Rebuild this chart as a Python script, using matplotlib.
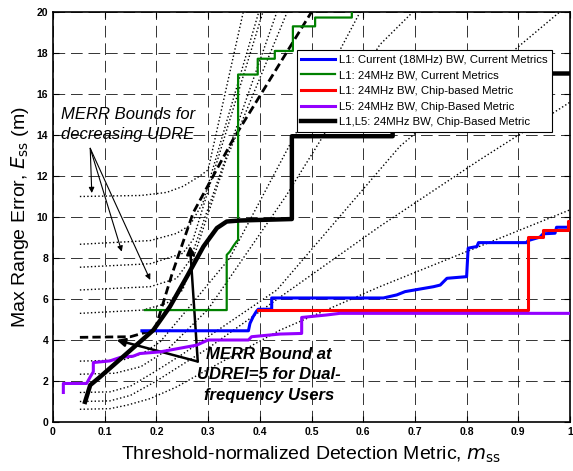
import matplotlib
matplotlib.use('Agg')
import matplotlib.pyplot as plt

plt.rcParams['font.family'] = ['Liberation Sans', 'DejaVu Sans']

# MERR bound curves (dotted), one per UDRE level: (x points, y points)
merr_bounds = {
    '11.0': ([0.052, 0.17, 0.22, 0.252, 0.284, 0.30, 0.368],
             [11.0, 11.05, 11.2, 11.5, 12.0, 12.3, 20.0]),
    '8.65': ([0.052, 0.188, 0.239, 0.265, 0.29, 0.398],
             [8.67, 8.85, 9.2, 9.6, 10.7, 20.0]),
    '7.55': ([0.052, 0.188, 0.251, 0.271, 0.406],
             [7.55, 7.72, 8.23, 8.9, 20.0]),
    '6.45': ([0.052, 0.188, 0.239, 0.265, 0.433],
             [6.44, 6.6, 7.0, 7.9, 20.0]),
    '5.3': ([0.052, 0.174, 0.22, 0.251, 0.335, 0.453],
            [5.3, 5.46, 5.79, 6.44, 12.8, 20.0]),
    '3.0': ([0.052, 0.135, 0.174, 0.207, 0.26, 0.342, 0.594],
            [2.97, 3.02, 3.36, 3.9, 5.5, 8.0, 20.0]),
    '2.35': ([0.052, 0.12, 0.17, 0.22, 0.30, 0.45, 0.632, 0.696],
             [2.33, 2.38, 2.7, 3.5, 5.5, 11.0, 18.4, 20.0]),
    '1.45': ([0.052, 0.11, 0.15, 0.20, 0.25, 0.433, 0.671, 0.98],
             [1.44, 1.47, 1.75, 2.5, 3.3, 6.44, 13.45, 20.0]),
    '1.0': ([0.052, 0.11, 0.15, 0.20, 0.30, 0.632, 0.826, 1.0],
            [1.0, 1.03, 1.3, 2.0, 3.6, 9.54, 12.8, 15.6]),
    '0.6': ([0.052, 0.11, 0.143, 0.188, 0.239, 0.297, 0.439, 0.632, 1.0],
            [0.62, 0.65, 0.82, 1.14, 1.71, 2.53, 4.48, 6.6, 10.35]),
}

# MERR bound at UDREI=5 (dashed)
udrei5_x = [0.052, 0.15, 0.194, 0.20, 0.23, 0.271, 0.348, 0.50]
udrei5_y = [4.13, 4.16, 4.48, 4.73, 7.2, 10.2, 13.77, 20.0]

# L1: current 18MHz BW, current metrics
blue_x = [0.172, 0.378, 0.381, 0.387, 0.393, 0.397, 0.423, 0.423, 0.639, 0.665, 0.681,
          0.736, 0.749, 0.762, 0.800, 0.803, 0.820, 0.823, 0.916, 0.919, 0.942,
          0.948, 0.971, 0.974, 1.0]
blue_y = [4.45, 4.45, 4.81, 5.13, 5.38, 5.5, 5.5, 6.05, 6.05, 6.2, 6.36,
          6.6, 6.68, 7.01, 7.09, 8.48, 8.56, 8.75, 8.75, 8.85, 9.02,
          9.18, 9.21, 9.5, 9.5]

# L1: 24MHz BW, current metrics
green_x = [0.178, 0.336, 0.336, 0.342, 0.349, 0.355, 0.358, 0.358, 0.396, 0.396,
           0.429, 0.429, 0.464, 0.464, 0.507, 0.507, 0.578, 0.578]
green_y = [5.46, 5.46, 8.15, 8.31, 8.59, 8.8, 8.88, 16.95, 16.95, 17.72,
           17.72, 18.1, 18.1, 19.3, 19.3, 19.73, 19.73, 20.05]

# L1: 24MHz BW, chip-based metric
red_x = [0.397, 0.919, 0.919, 0.947, 0.947, 0.997, 0.997, 1.0]
red_y = [5.46, 5.46, 9.02, 9.02, 9.37, 9.37, 9.8, 9.8]

# L5: 24MHz BW, chip-based metric
purple_x = [0.02, 0.02, 0.065, 0.072, 0.078, 0.078, 0.110, 0.130, 0.155, 0.168,
            0.207, 0.278, 0.30, 0.378, 0.384, 0.439, 0.481, 0.481, 0.529, 0.555, 1.0]
purple_y = [1.44, 1.88, 1.88, 2.2, 2.45, 2.9, 2.98, 3.15, 3.21, 3.34,
            3.42, 3.75, 4.0, 4.0, 4.16, 4.29, 4.32, 5.1, 5.22, 5.3, 5.3]

# L1,L5: 24MHz BW, chip-based metric
black_x = [0.062, 0.072, 0.091, 0.194, 0.226, 0.259, 0.291, 0.317, 0.336, 0.362,
           0.462, 0.462, 0.657, 0.657, 1.0]
black_y = [0.98, 1.8, 2.2, 4.48, 5.62, 7.09, 8.56, 9.46, 9.78, 9.83,
           9.9, 13.94, 13.94, 17.0, 17.0]

xticks = [0, 0.1, 0.2, 0.3, 0.4, 0.5, 0.6, 0.7, 0.8, 0.9, 1]
xticklabels = ['0', '0.1', '0.2', '0.3', '0.4', '0.5', '0.6', '0.7', '0.8', '0.9', '1']
yticks = list(range(0, 21, 2))

fig = plt.figure(figsize=(5.73, 4.71), dpi=100)
ax = fig.add_axes([53 / 573, 49 / 471, 517 / 573, 410 / 471])

# bounds
for key, (bx, by) in merr_bounds.items():
    ax.plot(bx, by, color='black', linestyle=':', linewidth=1.0, zorder=2)
ax.plot(udrei5_x, udrei5_y, color='black', linestyle=(0, (3, 1.5)), linewidth=2.0, zorder=3)

# results
ax.plot(blue_x, blue_y, color='#0000FF', linewidth=2.2, zorder=4,
        label='L1: Current (18MHz) BW, Current Metrics')
ax.plot(green_x, green_y, color='#008000', linewidth=1.6, zorder=4,
        label='L1: 24MHz BW, Current Metrics')
ax.plot(red_x, red_y, color='#FF0000', linewidth=2.2, zorder=4,
        label='L1: 24MHz BW, Chip-based Metric')
ax.plot(purple_x, purple_y, color='#9400FF', linewidth=2.2, zorder=4,
        label='L5: 24MHz BW, Chip-Based Metric')
ax.plot(black_x, black_y, color='black', linewidth=3.2, zorder=5,
        label='L1,L5: 24MHz BW, Chip-Based Metric')

ax.set_xlim(0, 1)
ax.set_ylim(0, 20)
ax.set_xticks(xticks)
ax.set_xticklabels(xticklabels)
ax.set_yticks(yticks)
ax.tick_params(direction='in', top=True, right=True, length=4, labelsize=7.5)
for lbl in ax.get_xticklabels() + ax.get_yticklabels():
    lbl.set_fontweight('bold')
ax.grid(True, color='black', linestyle=(0, (12, 6)), linewidth=0.7, alpha=0.8)
for sp in ax.spines.values():
    sp.set_linewidth(1.2)

ax.set_xlabel('Threshold-normalized Detection Metric, $m_{\\mathrm{ss}}$', fontsize=14, labelpad=6)
ax.set_ylabel('Max Range Error, $E_{\\mathrm{ss}}$ (m)', fontsize=14, labelpad=4)

leg = ax.legend(loc='upper right', bbox_to_anchor=(0.965, 0.907), borderaxespad=0,
                fontsize=8.2, handlelength=3.0, labelspacing=0.5, fancybox=False,
                framealpha=1, edgecolor='black', borderpad=0.4, handletextpad=0.3)
leg.get_frame().set_linewidth(0.8)
leg.set_zorder(10)

# annotations
ax.text(0.145, 14.5, 'MERR Bounds for\ndecreasing UDRE', fontsize=12, style='italic',
        ha='center', va='center', linespacing=1.4, zorder=6)
for tx, ty in [(0.075, 11.17), (0.133, 8.31), (0.188, 6.93)]:
    ax.annotate('', xy=(tx, ty), xytext=(0.072, 13.35),
                arrowprops=dict(arrowstyle='-|>', color='black', lw=0.8,
                                mutation_scale=8, shrinkA=0, shrinkB=0))

ax.text(0.418, 2.3, 'MERR Bound at\nUDREI=5 for Dual-\nfrequency Users', fontsize=12,
        style='italic', fontweight='bold', ha='center', va='center', linespacing=1.45, zorder=6)
for tx, ty in [(0.123, 4.0), (0.265, 8.6)]:
    ax.annotate('', xy=(tx, ty), xytext=(0.28, 2.95),
                arrowprops=dict(arrowstyle='-|>', color='black', lw=1.8,
                                mutation_scale=12, shrinkA=0, shrinkB=0))

fig.savefig('out.png', dpi=100)
